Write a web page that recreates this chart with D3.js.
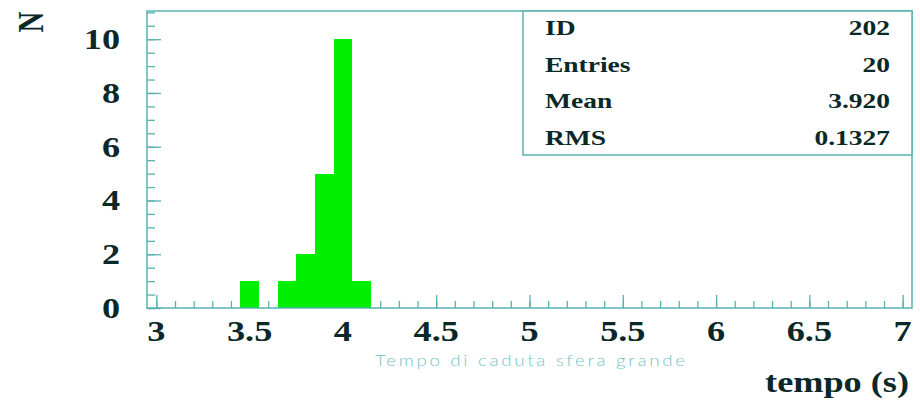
<!DOCTYPE html>
<html><head><meta charset="utf-8">
<script src="https://cdn.jsdelivr.net/npm/d3@7"></script>
<style>html,body{margin:0;padding:0;background:#fff;}svg{display:block;}</style>
</head><body>
<svg id="chart" width="920" height="401"></svg>
<script>
// ---- data ----
const binCenters = [3.5, 3.6, 3.7, 3.8, 3.9, 4.0, 4.1];
const binCounts  = [1, 0, 1, 2, 5, 10, 1];
const binWidth = 0.1;
const xMajorTicks = [3, 3.5, 4, 4.5, 5, 5.5, 6, 6.5, 7];
const xTickLabels = ["3", "3.5", "4", "4.5", "5", "5.5", "6", "6.5", "7"];
const yMajorTicks = [0, 2, 4, 6, 8, 10];
const yTickLabels = ["0", "2", "4", "6", "8", "10"];
const statLabels = ["ID", "Entries", "Mean", "RMS"];
const statValues = ["202", "20", "3.920", "0.1327"];
const xDomain = [2.95, 7.05];
const yDomain = [0, 11.05];
const xTitle = "tempo (s)";
const yTitle = "N";
const subTitle = "Tempo di caduta sfera grande";

// ---- layout ----
const L = 147, R = 912, T = 11, B = 308;
const SX = 1.25; // horizontal stretch of glyphs in reference
const ink = "#0a2828", frame = "#58b2b2", barFill = "#00ee00";
const serif = "'Liberation Serif','Times New Roman',serif";

const svg = d3.select("#chart");
const x = d3.scaleLinear().domain(xDomain).range([L, R]);
const y = d3.scaleLinear().domain(yDomain).range([B, T]);

// x minor/major ticks via d3 axis (drawn beneath the bars)
const xMinor = d3.range(30, 71).map(v => v / 10);
svg.append("g").attr("transform", `translate(0,${B})`)
  .call(d3.axisTop(x).tickValues(xMinor).tickSize(7).tickFormat(""))
  .call(g => g.select(".domain").remove())
  .call(g => g.selectAll("line").attr("stroke", frame).attr("stroke-width", 1.3));
svg.append("g").attr("transform", `translate(0,${B})`)
  .call(d3.axisTop(x).tickValues(xMajorTicks).tickSize(13).tickFormat(""))
  .call(g => g.select(".domain").remove())
  .call(g => g.selectAll("line").attr("stroke", frame).attr("stroke-width", 1.3));

// y ticks
const yMinor = d3.range(0, 23).map(v => v / 2).filter(v => v <= 11);
svg.append("g").attr("transform", `translate(${L},0)`)
  .call(d3.axisRight(y).tickValues(yMinor).tickSize(8).tickFormat(""))
  .call(g => g.select(".domain").remove())
  .call(g => g.selectAll("line").attr("stroke", frame).attr("stroke-width", 1.3));
svg.append("g").attr("transform", `translate(${L},0)`)
  .call(d3.axisRight(y).tickValues(yMajorTicks).tickSize(14).tickFormat(""))
  .call(g => g.select(".domain").remove())
  .call(g => g.selectAll("line").attr("stroke", frame).attr("stroke-width", 1.3));

// bars (crisp, so adjacent bins merge without seams)
svg.append("g").attr("shape-rendering", "crispEdges").selectAll("rect")
  .data(binCenters.map((c, i) => ({c, n: binCounts[i]})).filter(d => d.n > 0))
  .join("rect")
  .attr("x", d => Math.round(x(d.c - binWidth / 2)))
  .attr("width", d => Math.round(x(d.c + binWidth / 2)) - Math.round(x(d.c - binWidth / 2)))
  .attr("y", d => Math.round(y(d.n)))
  .attr("height", d => Math.round(y(0)) - Math.round(y(d.n)))
  .attr("fill", barFill);

// frame
svg.append("rect").attr("x", L).attr("y", T).attr("width", R - L).attr("height", B - T)
  .attr("fill", "none").attr("stroke", frame).attr("stroke-width", 1.5);

// x tick labels
svg.append("g").selectAll("text").data(xMajorTicks).join("text")
  .attr("transform", d => `translate(${x(d)},341) scale(${SX},1)`)
  .attr("text-anchor", "middle")
  .attr("font-family", serif).attr("font-weight", "bold").attr("font-size", 29)
  .attr("fill", ink)
  .text((d, i) => xTickLabels[i]);

// y tick labels
svg.append("g").selectAll("text").data(yMajorTicks).join("text")
  .attr("transform", d => `translate(120,${y(d)}) scale(${SX},1)`)
  .attr("text-anchor", "end").attr("dy", "0.34em")
  .attr("font-family", serif).attr("font-weight", "bold").attr("font-size", 29)
  .attr("fill", ink)
  .text((d, i) => yTickLabels[i]);

// axis titles
svg.append("text")
  .attr("transform", `translate(909,392) scale(${SX},1)`)
  .attr("text-anchor", "end")
  .attr("font-family", serif).attr("font-weight", "bold").attr("font-size", 29)
  .attr("fill", ink).text(xTitle);

svg.append("text")
  .attr("transform", `translate(30,22) scale(${SX},1) rotate(-90)`)
  .attr("text-anchor", "middle").attr("dy", "0.35em")
  .attr("font-family", serif).attr("font-weight", "bold").attr("font-size", 29)
  .attr("fill", ink).text(yTitle);

// subtitle
svg.append("text")
  .attr("transform", `translate(530,366) scale(${SX},1)`)
  .attr("text-anchor", "middle")
  .attr("font-family", "Lato, 'Open Sans', sans-serif").attr("font-weight", 300)
  .attr("font-size", 15)
  .attr("textLength", 248).attr("lengthAdjust", "spacing")
  .attr("fill", "#74c4c4").text(subTitle);

// stats box
const box = {x0: 523, y0: 11, x1: 912, y1: 155};
svg.append("rect").attr("x", box.x0).attr("y", box.y0)
  .attr("width", box.x1 - box.x0).attr("height", box.y1 - box.y0)
  .attr("fill", "#fff").attr("stroke", frame).attr("stroke-width", 1.5);
const rowY = i => 35 + i * 36.7;
svg.append("g").selectAll("text").data(statLabels).join("text")
  .attr("transform", (d, i) => `translate(545,${rowY(i)}) scale(${SX},1)`)
  .attr("font-family", serif).attr("font-weight", "bold").attr("font-size", 22)
  .attr("fill", ink).text(d => d);
svg.append("g").selectAll("text").data(statValues).join("text")
  .attr("transform", (d, i) => `translate(890,${rowY(i)}) scale(${SX},1)`)
  .attr("text-anchor", "end")
  .attr("font-family", serif).attr("font-weight", "bold").attr("font-size", 22)
  .attr("fill", ink).text(d => d);
</script>
</body></html>
